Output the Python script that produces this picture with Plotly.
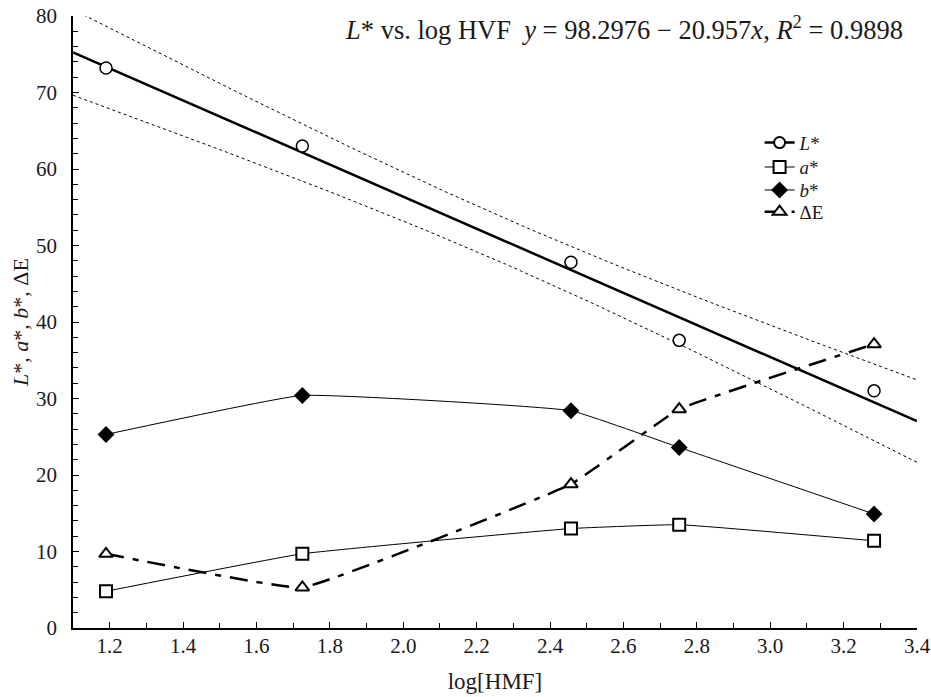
import numpy as np
import plotly.graph_objects as go

# ---- data ----
log_hmf = [1.19, 1.725, 2.457, 2.752, 3.283]
L_star = [73.2, 63.0, 47.8, 37.6, 31.0]
a_star = [4.8, 9.7, 13.0, 13.5, 11.4]
b_star = [25.3, 30.4, 28.4, 23.6, 14.9]
delta_E = [9.7, 5.3, 18.8, 28.6, 37.1]

fit_intercept = 98.2976
fit_slope = -20.957
t_crit = 3.182  # 95% two-sided, df = n - 2 = 3

x_ticks = [1.2, 1.4, 1.6, 1.8, 2.0, 2.2, 2.4, 2.6, 2.8, 3.0, 3.2, 3.4]
y_ticks = [0, 10, 20, 30, 40, 50, 60, 70, 80]

FONT = "Liberation Serif"
INK = "#1a1a1a"

# ---- regression line and 95% confidence band for L* ----
xa = np.array(log_hmf)
ya = np.array(L_star)
n = len(xa)
xg = np.linspace(1.1, 3.4, 120)
yfit = fit_intercept + fit_slope * xg
resid = ya - (fit_intercept + fit_slope * xa)
s = np.sqrt(np.sum(resid ** 2) / (n - 2))
sxx = np.sum((xa - xa.mean()) ** 2)
half = t_crit * s * np.sqrt(1.0 / n + (xg - xa.mean()) ** 2 / sxx)

fig = go.Figure()

for band in (yfit + half, yfit - half):
    fig.add_trace(go.Scatter(x=xg, y=band, mode="lines", showlegend=False,
                             line=dict(color="black", width=1, dash="3px,3px"),
                             hoverinfo="skip"))
fig.add_trace(go.Scatter(x=xg, y=yfit, mode="lines", showlegend=False,
                         line=dict(color="black", width=2.5)))

fig.add_trace(go.Scatter(x=log_hmf, y=b_star, mode="lines+markers", name="<i>b</i>*",
                         legend="legend3",
                         line=dict(color="black", width=1, shape="spline", smoothing=0.3),
                         marker=dict(symbol="diamond", size=13, color="black")))
fig.add_trace(go.Scatter(x=log_hmf, y=a_star, mode="lines+markers", name="<i>a</i>*",
                         legend="legend2",
                         line=dict(color="black", width=1, shape="spline", smoothing=0.3),
                         marker=dict(symbol="square", size=12, color="white",
                                     line=dict(color="black", width=2))))
fig.add_trace(go.Scatter(x=log_hmf, y=delta_E, mode="lines+markers", name="ΔE",
                         legend="legend4",
                         line=dict(color="black", width=2.5, dash="18px,9px,6px,9px",
                                   shape="spline", smoothing=0.25),
                         marker=dict(symbol="triangle-up", size=12, color="white",
                                     line=dict(color="black", width=2))))
fig.add_trace(go.Scatter(x=log_hmf, y=L_star, mode="markers", showlegend=False,
                         marker=dict(symbol="circle", size=12, color="white",
                                     line=dict(color="black", width=1.5))))
# L* legend entry (fit line + circle)
fig.add_trace(go.Scatter(x=[None], y=[None], mode="lines+markers", name="<i>L</i>*",
                         legend="legend",
                         line=dict(color="black", width=2.5),
                         marker=dict(symbol="circle", size=11, color="white",
                                     line=dict(color="black", width=2))))


def leg(yc):
    return dict(x=0.8135, y=yc, xanchor="left", yanchor="middle",
                font=dict(family=FONT, size=19, color=INK),
                bgcolor="rgba(0,0,0,0)", itemwidth=30)


fig.update_layout(
    width=931, height=697,
    margin=dict(l=73, r=14, t=16, b=69, autoexpand=False),
    paper_bgcolor="white", plot_bgcolor="white",
    font=dict(family=FONT, size=21, color=INK),
    legend=leg(0.793), legend2=leg(0.753), legend3=leg(0.7155), legend4=leg(0.680),
    annotations=[dict(
        text="<i>L</i>* vs. log HVF  <i>y</i> = 98.2976 − 20.957<i>x</i>, <i>R</i><sup>2</sup> = 0.9898",
        xref="paper", yref="paper", x=0.986, y=0.980, xanchor="right", yanchor="middle",
        showarrow=False, font=dict(family=FONT, size=26.5, color=INK))],
)

fig.update_xaxes(
    range=[1.1, 3.4], tickvals=x_ticks, ticktext=[f"{v:.1f}" for v in x_ticks],
    ticks="inside", ticklen=6, tickcolor="black", showgrid=False, zeroline=False,
    showline=True, linecolor="black", linewidth=1.5, automargin=False,
    minor=dict(dtick=0.1, tick0=1.1, ticks="inside", ticklen=5, tickcolor="black"),
    tickfont=dict(family=FONT, size=21, color=INK), ticklabelstandoff=-2,
    title=dict(text="log[HMF]", font=dict(family=FONT, size=23, color=INK), standoff=16),
)
fig.update_yaxes(
    range=[0, 80], tickvals=y_ticks, ticks="inside", ticklen=6, tickcolor="black",
    showgrid=False, zeroline=False, showline=True, linecolor="black", linewidth=1.5,
    automargin=False,
    minor=dict(dtick=2, tick0=0, ticks="inside", ticklen=5, tickcolor="black"),
    tickfont=dict(family=FONT, size=21, color=INK), ticklabelstandoff=10,
    title=dict(text="<i>L</i>*, <i>a</i>*, <i>b</i>*, ΔE",
               font=dict(family=FONT, size=22, color=INK), standoff=1),
)

fig.write_html("out.html", config={"displayModeBar": False},
               post_script="document.body.style.margin='0';")
